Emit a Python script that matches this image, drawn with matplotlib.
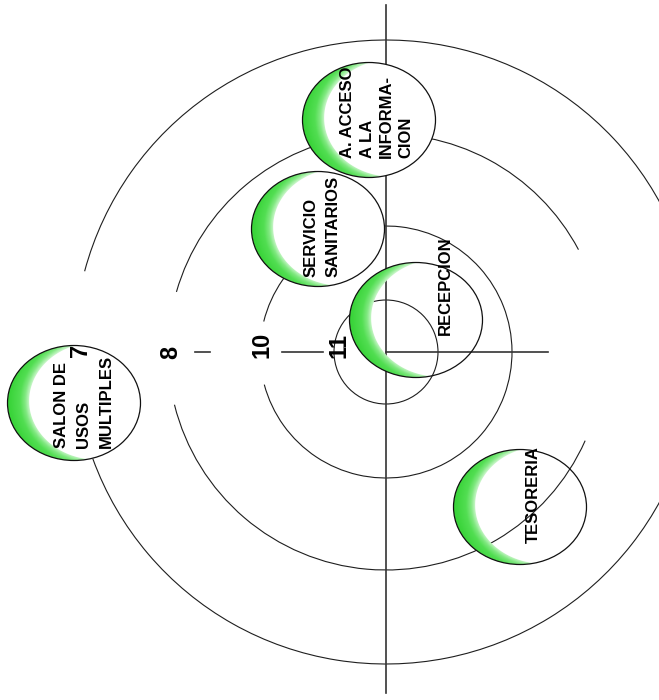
import numpy as np
import matplotlib
matplotlib.use("Agg")
import matplotlib.pyplot as plt
from matplotlib.patches import Arc, Ellipse, Polygon
from matplotlib.colors import LinearSegmentedColormap

plt.rcParams['font.family'] = ['Liberation Sans', 'DejaVu Sans']

# ---- data (picture coordinates, y grows downwards) ----
centre = (386, 352)

ring_labels = ['11', '10', '8', '7']
ring_radii = [52, 126, 218, 312]
# visible parts of each ring, degrees counter-clockwise from the right
ring_arcs = [
    [(0, 360)],
    [(195, 526)],
    [(28, 164), (194, 336)],
    [(200, 525)],
]
ring_label_x = [339, 262, 171, 81]
ring_label_y = [346, 345, 352, 350]

node_lines = [
    ['SERVICIO', 'SANITARIOS'],
    ['A. ACCESO', 'A LA', 'INFORMA-', 'CION'],
    ['RECEPCION'],
    ['SALON DE', 'USOS', 'MULTIPLES'],
    ['TESORERIA'],
]
node_x = [318, 369, 416, 74, 520]
node_y = [229, 120, 320, 403, 507]
node_opaque = [True, True, False, True, False]
label_x = [311, 348, 445, 61, 533]      # first text column
label_gap = [22, 19.3, 0, 22.5, 0]      # distance between columns
label_bottom = [277, 158, 335, 448, 543]

# axis segments
h_segments = [(195, 210), (282, 323), (386, 548)]
v_segment = (5, 693)

# ---- drawing ----
fig = plt.figure(figsize=(6.59, 7.0), dpi=100)
ax = fig.add_axes([0, 0, 1, 1])

cx, cy = centre
ring_col = '#1e1e1e'
for r, arcs in zip(ring_radii, ring_arcs):
    for a, b in arcs:
        # y axis is inverted, so angles flip sign
        ax.add_patch(Arc(centre, 2 * r, 2 * r, theta1=-b, theta2=-a,
                         color=ring_col, lw=0.8, zorder=1))

for x0, x1 in h_segments:
    ax.plot([x0, x1], [cy, cy], color='#333333', lw=1.2, zorder=1)
ax.plot([cx, cx], list(v_segment), color='#333333', lw=1.2, zorder=1)

rx, ry = 66.5, 57.5
sx, sy, k = 23, -2, 1.02
green = LinearSegmentedColormap.from_list(
    'g', [(0.0, '#d2f8d2'), (0.25, '#7fe87f'), (0.5, '#52de52'), (1.0, '#3ad43a')])


def crescent(x, y):
    t = np.linspace(0, 2 * np.pi, 721)
    ox, oy = x + rx * np.cos(t), y + ry * np.sin(t)
    ix, iy = x + sx + k * rx * np.cos(t), y + sy + k * ry * np.sin(t)
    out_m = ((ox - x - sx) / (k * rx)) ** 2 + ((oy - y - sy) / (k * ry)) ** 2 > 1
    in_m = ((ix - x) / rx) ** 2 + ((iy - y) / ry) ** 2 < 1
    pts = np.vstack([np.column_stack([ox[out_m], oy[out_m]]),
                     np.column_stack([ix[in_m], iy[in_m]])[::-1]])
    return pts


for i, lines in enumerate(node_lines):
    z = 3 + i
    x, y = node_x[i], node_y[i]
    if node_opaque[i]:
        ax.add_patch(Ellipse((x, y), 2 * rx, 2 * ry, facecolor='white',
                             edgecolor='none', zorder=z))
    poly = Polygon(crescent(x, y), closed=True, transform=ax.transData)
    gx, gy = np.meshgrid(np.linspace(x - rx, x + rx, 160),
                         np.linspace(y - ry, y + ry, 140))
    v = np.sqrt(((gx - x - sx) / (k * rx)) ** 2 + ((gy - y - sy) / (k * ry)) ** 2)
    shade = np.clip((v - 1.0) / 0.3, 0, 1)
    im = ax.imshow(shade, cmap=green, vmin=0, vmax=1, aspect='auto',
                   extent=(x - rx, x + rx, y + ry, y - ry), origin='upper',
                   zorder=z + 0.1, interpolation='bilinear')
    im.set_clip_path(poly)
    outline = Ellipse((x, y), 2 * rx, 2 * ry, facecolor='none',
                      edgecolor='#111111', lw=0.9, zorder=z + 0.2)
    ax.add_patch(outline)
    for j, line in enumerate(lines):
        t = ax.text(label_x[i] + j * label_gap[i], label_bottom[i], line,
                    rotation=90, ha='center', va='bottom', fontsize=12,
                    fontweight='bold', color='black', zorder=z + 0.3)
        if node_opaque[i]:
            t.set_clip_path(Ellipse((x, y), 2 * rx, 2 * ry,
                                    transform=ax.transData))

for lab, lx, ly in zip(ring_labels, ring_label_x, ring_label_y):
    ax.text(lx, ly, lab, rotation=90, ha='center', va='center',
            fontsize=17, fontweight='bold', color='black', zorder=20)

ax.set_xlim(0, 659)
ax.set_ylim(700, 0)
ax.axis('off')
fig.savefig('out.png', dpi=100, facecolor='white')
